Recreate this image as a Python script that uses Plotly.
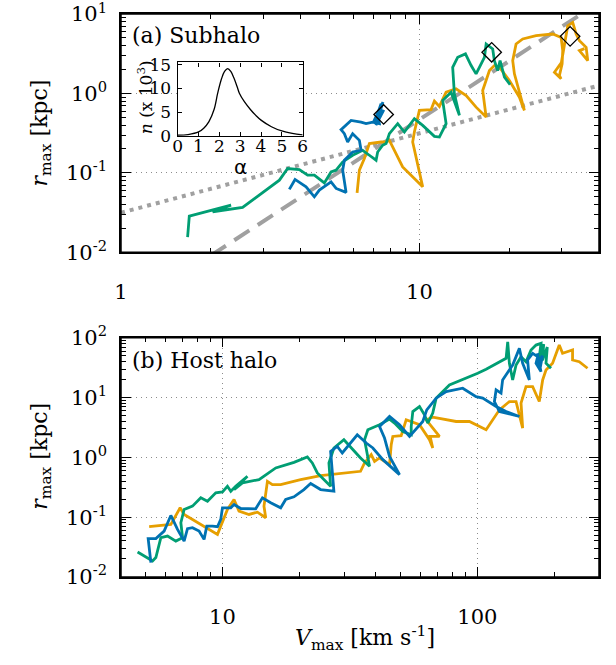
import plotly.graph_objects as go

# ---------------- data ----------------
# (a) Subhalo tracks: Vmax [km/s], rmax [kpc]
sub_green_v = [1.672, 1.694, 2.338, 2.028, 2.556, 3.395, 3.618, 3.960, 4.222, 4.446, 4.803, 5.058, 5.259, 5.533, 5.976,
               6.456, 6.799, 7.159, 7.248, 7.534, 7.734, 7.934, 8.460, 8.907, 9.621, 10.26, 11.23, 11.67, 12.29, 11.97,
               12.77, 13.62, 13.10, 12.93, 13.44, 14.27, 14.91, 15.49, 15.89, 16.52, 16.74, 17.61, 17.84, 18.30, 18.64,
               19.28, 20.14]
sub_green_r = [0.0155, 0.0286, 0.0393, 0.0324, 0.0368, 0.0810, 0.1136, 0.1103, 0.0936, 0.0936, 0.0749, 0.1029, 0.1081,
               0.1374, 0.1668, 0.1927, 0.1668, 0.1443, 0.1834, 0.2227, 0.2338, 0.3121, 0.4168, 0.3268, 0.4816, 0.3968,
               0.2887, 0.2829, 0.4168, 0.817, 1.038, 0.530, 0.991, 2.138, 2.854, 3.148, 2.246, 1.767, 2.138, 2.854,
               4.203, 3.638, 2.594, 1.944, 2.594, 1.602, 1.297]

sub_blue_v = [3.666, 3.831, 4.171, 4.446, 4.621, 4.928, 5.058, 5.259, 5.680, 5.533, 5.606, 5.976, 6.377, 6.294, 5.976,
              5.750, 5.606, 5.465, 5.680, 5.902, 6.377, 6.627, 6.975, 7.344, 7.248, 7.441, 7.344, 7.0, 7.55, 7.15,
              7.6, 7.2]
sub_blue_r = [0.0619, 0.0827, 0.0667, 0.0500, 0.0607, 0.0715, 0.0771, 0.0637, 0.0568, 0.1081, 0.1443, 0.1834, 0.1927,
              0.2572, 0.3121, 0.2449, 0.3121, 0.3504, 0.3968, 0.4583, 0.4363, 0.4168, 0.4363, 0.4168, 0.5563, 0.7427,
              0.5043, 0.43, 0.78, 0.40, 0.62, 0.47]

sub_orange_v = [6.183, 6.294, 6.541, 6.799, 7.441, 7.734, 7.934, 8.790, 10.26, 9.496, 9.621, 10.0, 10.94, 11.23, 11.67,
                12.29, 13.27, 14.35, 15.49, 16.74, 16.30, 17.17, 17.84, 18.54, 20.03, 21.64, 22.49, 20.82, 20.55,
                21.09, 22.20, 24.61, 27.99, 29.85, 30.23, 30.09, 29.47, 29.85, 28.36, 29.92, 31.42, 32.65, 33.52,
                34.39, 36.22, 36.67, 34.39, 35.74]
sub_orange_r = [0.0561, 0.1081, 0.1516, 0.2338, 0.2449, 0.2449, 0.2572, 0.1189, 0.0667, 0.2449, 0.3268, 0.6118, 0.6243,
                0.8006, 0.6869, 1.038, 1.146, 0.944, 0.673, 0.5043, 1.09, 1.944, 2.246, 2.138, 1.456, 0.899, 0.6118,
                1.767, 2.594, 4.203, 4.857, 5.342, 5.61, 5.087, 3.463, 2.358, 1.682, 1.529, 1.85, 2.449, 7.132, 7.845,
                5.61, 4.624, 3.81, 2.594, 3.463, 3.669]

# final positions (open diamonds)
sub_end_v = [7.59, 17.47, 32.0]
sub_end_r = [0.545, 3.30, 5.24]

# reference lines in panel (a)
ref_dot_v = [1.0, 40.0]
ref_dot_r = [0.0315, 1.26]
ref_dash_v = [2.0, 40.0]
ref_dash_r = [0.0091, 14.0]

# (b) Host halo tracks
host_orange_v = [5.158, 6.274, 6.823, 7.072, 9.559, 9.847, 10.46, 11.10, 11.61, 12.71, 13.71, 14.78, 14.55, 15.01,
                 15.70, 16.92, 20.26, 24.27, 34.80, 36.08, 38.33, 39.50, 41.32, 45.22, 45.92, 46.58, 50.24, 52.56,
                 59.28, 64.86, 66.82, 65.26, 71.00, 62.98, 66.82, 82.53, 93.05, 108.2, 114.8, 122.0, 133.5, 141.8,
                 150.5, 148.3, 155.1, 164.7, 174.9, 180.3, 185.8, 197.2, 209.5, 215.8, 236.2, 236.2, 250.9, 270.4]
host_orange_r = [0.0692, 0.0755, 0.1434, 0.1109, 0.0515, 0.0708, 0.1344, 0.1972, 0.1259, 0.1109, 0.1212, 0.0977,
                 0.1526, 0.398, 0.3508, 0.3508, 0.4249, 0.4955, 0.5843, 0.8064, 1.109, 0.8577, 0.977, 0.7556, 1.628,
                 2.239, 2.30, 4.25, 3.508, 1.972, 1.435, 2.239, 2.239, 4.25, 4.714, 3.981, 3.981, 2.895, 4.25, 6.237,
                 8.577, 8.577, 3.09, 8.066, 15.26, 15.26, 8.577, 19.72, 28.95, 37.44, 75.55, 54.95, 62.37, 42.49,
                 39.81, 30.9]

host_green_v = [4.645, 5.319, 5.479, 5.732, 6.089, 6.564, 6.973, 6.867, 7.072, 7.628, 8.222, 8.734, 9.414, 10.0, 10.46,
                10.78, 11.27, 12.53, 11.10, 11.98, 13.91, 16.18, 19.08, 21.52, 22.51, 23.56, 26.56, 26.16, 27.36,
                29.95, 34.80, 37.76, 36.08, 37.18, 41.32, 45.22, 47.30, 50.98, 55.00, 55.00, 55.80, 59.28, 62.01,
                63.88, 66.82, 68.89, 77.68, 90.31, 100.3, 108.2, 116.6, 129.6, 131.5, 133.5, 137.5, 141.8, 148.3,
                155.1, 162.3, 169.8, 177.6, 174.0, 182.0, 180.0, 188.0, 185.8, 194.4]
host_green_r = [0.0261, 0.0185, 0.0211, 0.0454, 0.0483, 0.0398, 0.0454, 0.0806, 0.1344, 0.1526, 0.2106, 0.1848, 0.2551,
                0.2651, 0.3286, 0.2713, 0.3286, 0.4825, 0.2895, 0.3745, 0.4249, 0.6658, 0.8254, 1.016, 0.8064, 0.5495,
                0.3286, 0.8064, 1.435, 1.972, 0.977, 0.708, 1.972, 2.895, 3.508, 4.365, 3.744, 2.712, 2.389, 3.286,
                5.844, 7.079, 5.149, 3.744, 5.495, 9.772, 16.28, 21.05, 25.5, 29.74, 35.08, 45.37, 85.77, 37.44,
                19.72, 35.08, 48.24, 39.81, 62.37, 75.55, 80.66, 40.0, 78.0, 42.0, 70.0, 37.44, 30.9]

host_blue_v = [5.239, 5.112, 5.479, 5.905, 6.274, 6.664, 7.072, 7.292, 7.628, 8.095, 8.470, 8.679, 9.139, 9.559, 9.847,
               10.0, 10.78, 11.10, 11.80, 13.50, 14.35, 15.46, 16.92, 17.70, 19.08, 20.87, 22.18, 24.27, 27.36, 26.97,
               26.56, 28.21, 29.51, 33.79, 36.64, 38.90, 42.58, 49.50, 45.22, 43.22, 41.32, 45.22, 49.50, 54.17,
               58.39, 61.06, 63.30, 68.89, 75.43, 87.59, 98.83, 104.9, 118.4, 129.6, 146.1, 122.0, 116.6, 118.4,
               123.8, 125.6, 137.5, 146.1, 150.5, 159.9, 157.4, 164.7, 172.3, 169.8, 177.6, 172.0, 176.0, 180.0,
               170.0]
host_blue_r = [0.0174, 0.0437, 0.0437, 0.0584, 0.1067, 0.0624, 0.0398, 0.0641, 0.0666, 0.0584, 0.0425, 0.0708, 0.0708,
               0.0692, 0.0916, 0.1434, 0.1434, 0.1628, 0.1396, 0.138, 0.2106, 0.1738, 0.1434, 0.1972, 0.2188, 0.2895,
               0.3644, 0.2895, 0.2713, 0.6237, 1.259, 1.525, 1.184, 2.389, 1.738, 1.435, 0.915, 0.5146, 1.039, 2.105,
               3.286, 4.824, 3.508, 2.239, 3.286, 3.981, 6.237, 9.772, 12.59, 14.35, 10.39, 9.772, 7.079, 5.844,
               4.824, 5.844, 8.577, 13.44, 11.84, 19.72, 35.08, 66.57, 37.44, 19.72, 42.49, 54.95, 48.24, 37.44,
               27.13, 55.0, 30.0, 50.0, 35.0]

# inset: distribution of alpha
inset_alpha = [0, 0.5, 1.0, 1.25, 1.5, 1.75, 1.92, 2.1, 2.25, 2.4, 2.55, 2.7, 2.85, 2.96, 3.2, 3.5, 3.75, 4.0, 4.5,
               5.0, 5.5, 6.0]
inset_n = [0.1, 0.25, 0.8, 1.6, 3.0, 5.6, 9.0, 12.0, 13.6, 14.2, 13.6, 12.2, 10.4, 9.0, 7.2, 5.5, 4.3, 3.3, 1.9, 1.0,
           0.5, 0.2]

# tick labels
sub_y_ticks = [0.01, 0.1, 1, 10]
sub_y_text = ["10<sup>-2</sup>", "10<sup>-1</sup>", "10<sup>0</sup>", "10<sup>1</sup>"]
host_y_ticks = [0.01, 0.1, 1, 10, 100]
host_y_text = ["10<sup>-2</sup>", "10<sup>-1</sup>", "10<sup>0</sup>", "10<sup>1</sup>", "10<sup>2</sup>"]
sub_x_ticks = [1, 10]
sub_x_text = ["1", "10"]
host_x_ticks = [10, 100]
host_x_text = ["10", "100"]
minor_mult = [2, 3, 4, 5, 6, 7, 8, 9]
decades = [0.001, 0.01, 0.1, 1, 10, 100, 1000]
minor_vals = [m * d for d in decades for m in minor_mult]

# inset ticks
inset_x_ticks = [0, 1, 2, 3, 4, 5, 6]
inset_y_ticks = [0, 5, 10, 15]

# ---------------- figure ----------------
FONT = "DejaVu Serif"
C_BLUE = "#0072B2"
C_GREEN = "#009E73"
C_ORANGE = "#E69F00"
GREY = "#a0a0a0"
LW = 2.8

fig = go.Figure()


def track(v, r, color, xa, ya):
    fig.add_trace(go.Scatter(x=v, y=r, mode="lines", line=dict(color=color, width=LW),
                             xaxis=xa, yaxis=ya, showlegend=False, hoverinfo="skip"))


# reference lines (panel a)
fig.add_trace(go.Scatter(x=ref_dot_v, y=ref_dot_r, mode="lines", line=dict(color=GREY, width=4, dash="4px,5px"),
                         xaxis="x", yaxis="y", showlegend=False, hoverinfo="skip"))
fig.add_trace(go.Scatter(x=ref_dash_v, y=ref_dash_r, mode="lines", line=dict(color=GREY, width=4, dash="18px,10px"),
                         xaxis="x", yaxis="y", showlegend=False, hoverinfo="skip"))

track(sub_orange_v, sub_orange_r, C_ORANGE, "x", "y")
track(sub_green_v, sub_green_r, C_GREEN, "x", "y")
track(sub_blue_v, sub_blue_r, C_BLUE, "x", "y")

fig.add_trace(go.Scatter(x=sub_end_v, y=sub_end_r, mode="markers",
                         marker=dict(symbol="diamond-open", size=15, color="black", line=dict(width=1.3, color="black")),
                         xaxis="x", yaxis="y", showlegend=False, hoverinfo="skip"))

track(host_orange_v, host_orange_r, C_ORANGE, "x2", "y2")
track(host_green_v, host_green_r, C_GREEN, "x2", "y2")
track(host_blue_v, host_blue_r, C_BLUE, "x2", "y2")

# inset curve
fig.add_trace(go.Scatter(x=inset_alpha, y=inset_n, mode="lines", line=dict(color="black", width=1.3, shape="spline"),
                         xaxis="x3", yaxis="y3", showlegend=False, hoverinfo="skip"))

tickfont = dict(family=FONT, size=21, color="black")
common = dict(type="log", showline=True, linecolor="black", linewidth=1.5, mirror="allticks",
              ticks="inside", ticklen=10, tickwidth=1, tickcolor="black", automargin=False,
              ticklabeloverflow="allow",
              showgrid=True, gridcolor="#8c8c8c", griddash="1px,4px", gridwidth=1.2, zeroline=False,
              tickfont=tickfont, tickmode="array",
              minor=dict(ticks="inside", ticklen=5, tickwidth=1, tickcolor="black", showgrid=False,
                         tickmode="array", tickvals=minor_vals))

inset_common = dict(showline=True, linecolor="black", linewidth=1.2, mirror="allticks", ticks="inside", ticklen=4,
                    tickcolor="black", showgrid=False, zeroline=False, automargin=False,
                    ticklabeloverflow="allow",
                    tickfont=dict(family=FONT, size=17, color="black"))

fig.update_layout(
    width=616, height=665, autosize=False,
    margin=dict(l=121, r=17, t=14, b=88),
    paper_bgcolor="white", plot_bgcolor="white",
    xaxis=dict(common, domain=[0, 1], anchor="y", range=[0, 1.602],
               tickvals=sub_x_ticks, ticktext=sub_x_text, ticklabelstandoff=20),
    yaxis=dict(common, domain=[0.5766, 1], anchor="x", range=[-2.001, 1.001],
               tickvals=sub_y_ticks, ticktext=sub_y_text, ticklabelstandoff=8),
    xaxis2=dict(common, domain=[0, 1], anchor="y2", range=[0.602, 2.477],
                tickvals=host_x_ticks, ticktext=host_x_text, ticklabelstandoff=20),
    yaxis2=dict(common, domain=[0, 0.425], anchor="x2", range=[-2.001, 2.001],
                tickvals=host_y_ticks, ticktext=host_y_text, ticklabelstandoff=8),
    xaxis3=dict(inset_common, domain=[0.1186, 0.3801], anchor="y3", range=[0, 6], tickvals=inset_x_ticks,
                ticklabelstandoff=-5),
    yaxis3=dict(inset_common, domain=[0.7838, 0.9139], anchor="x3", range=[0, 15.5], tickvals=inset_y_ticks,
                ticklabelstandoff=2),
)

# explicit frames around both panels
for xr, yr in (("x domain", "y domain"), ("x2 domain", "y2 domain")):
    fig.add_shape(type="rect", xref=xr, yref=yr, x0=0, x1=1, y0=0, y1=1,
                  line=dict(color="black", width=1.5), fillcolor="rgba(0,0,0,0)", layer="above")

ann_font = dict(family=FONT, size=22, color="black")
fig.add_annotation(text="(a) Subhalo", xref="paper", yref="paper", x=0.019, y=0.962,
                   xanchor="left", yanchor="middle", showarrow=False, font=ann_font)
fig.add_annotation(text="(b) Host halo", xref="paper", yref="paper", x=0.019, y=0.384,
                   xanchor="left", yanchor="middle", showarrow=False, font=ann_font)
fig.add_annotation(text="<i>r</i><sub>max</sub> [kpc]", xref="paper", yref="paper", x=-0.167, y=0.788,
                   xanchor="center", yanchor="middle", textangle=-90, showarrow=False, font=ann_font)
fig.add_annotation(text="<i>r</i><sub>max</sub> [kpc]", xref="paper", yref="paper", x=-0.167, y=0.214,
                   xanchor="center", yanchor="middle", textangle=-90, showarrow=False, font=ann_font)
fig.add_annotation(text="<i>V</i><sub>max</sub> [km s<sup>-1</sup>]", xref="paper", yref="paper", x=0.51, y=-0.108,
                   xanchor="center", yanchor="middle", showarrow=False, font=ann_font)
fig.add_annotation(text="α", xref="paper", yref="paper", x=0.249, y=0.729,
                   xanchor="center", yanchor="middle", showarrow=False,
                   font=dict(family="DejaVu Sans", size=20, color="black"))
fig.add_annotation(text="<i>n</i> (x 10<sup>3</sup>)", xref="paper", yref="paper", x=0.05, y=0.852,
                   xanchor="center", yanchor="middle", textangle=-90, showarrow=False,
                   font=dict(family=FONT, size=17, color="black"))

# remove the page's default 8px body margin so the figure sits at the window's top-left corner
fig.write_html("out.html", config={"displayModeBar": False},
               post_script="document.body.style.margin='0';")
